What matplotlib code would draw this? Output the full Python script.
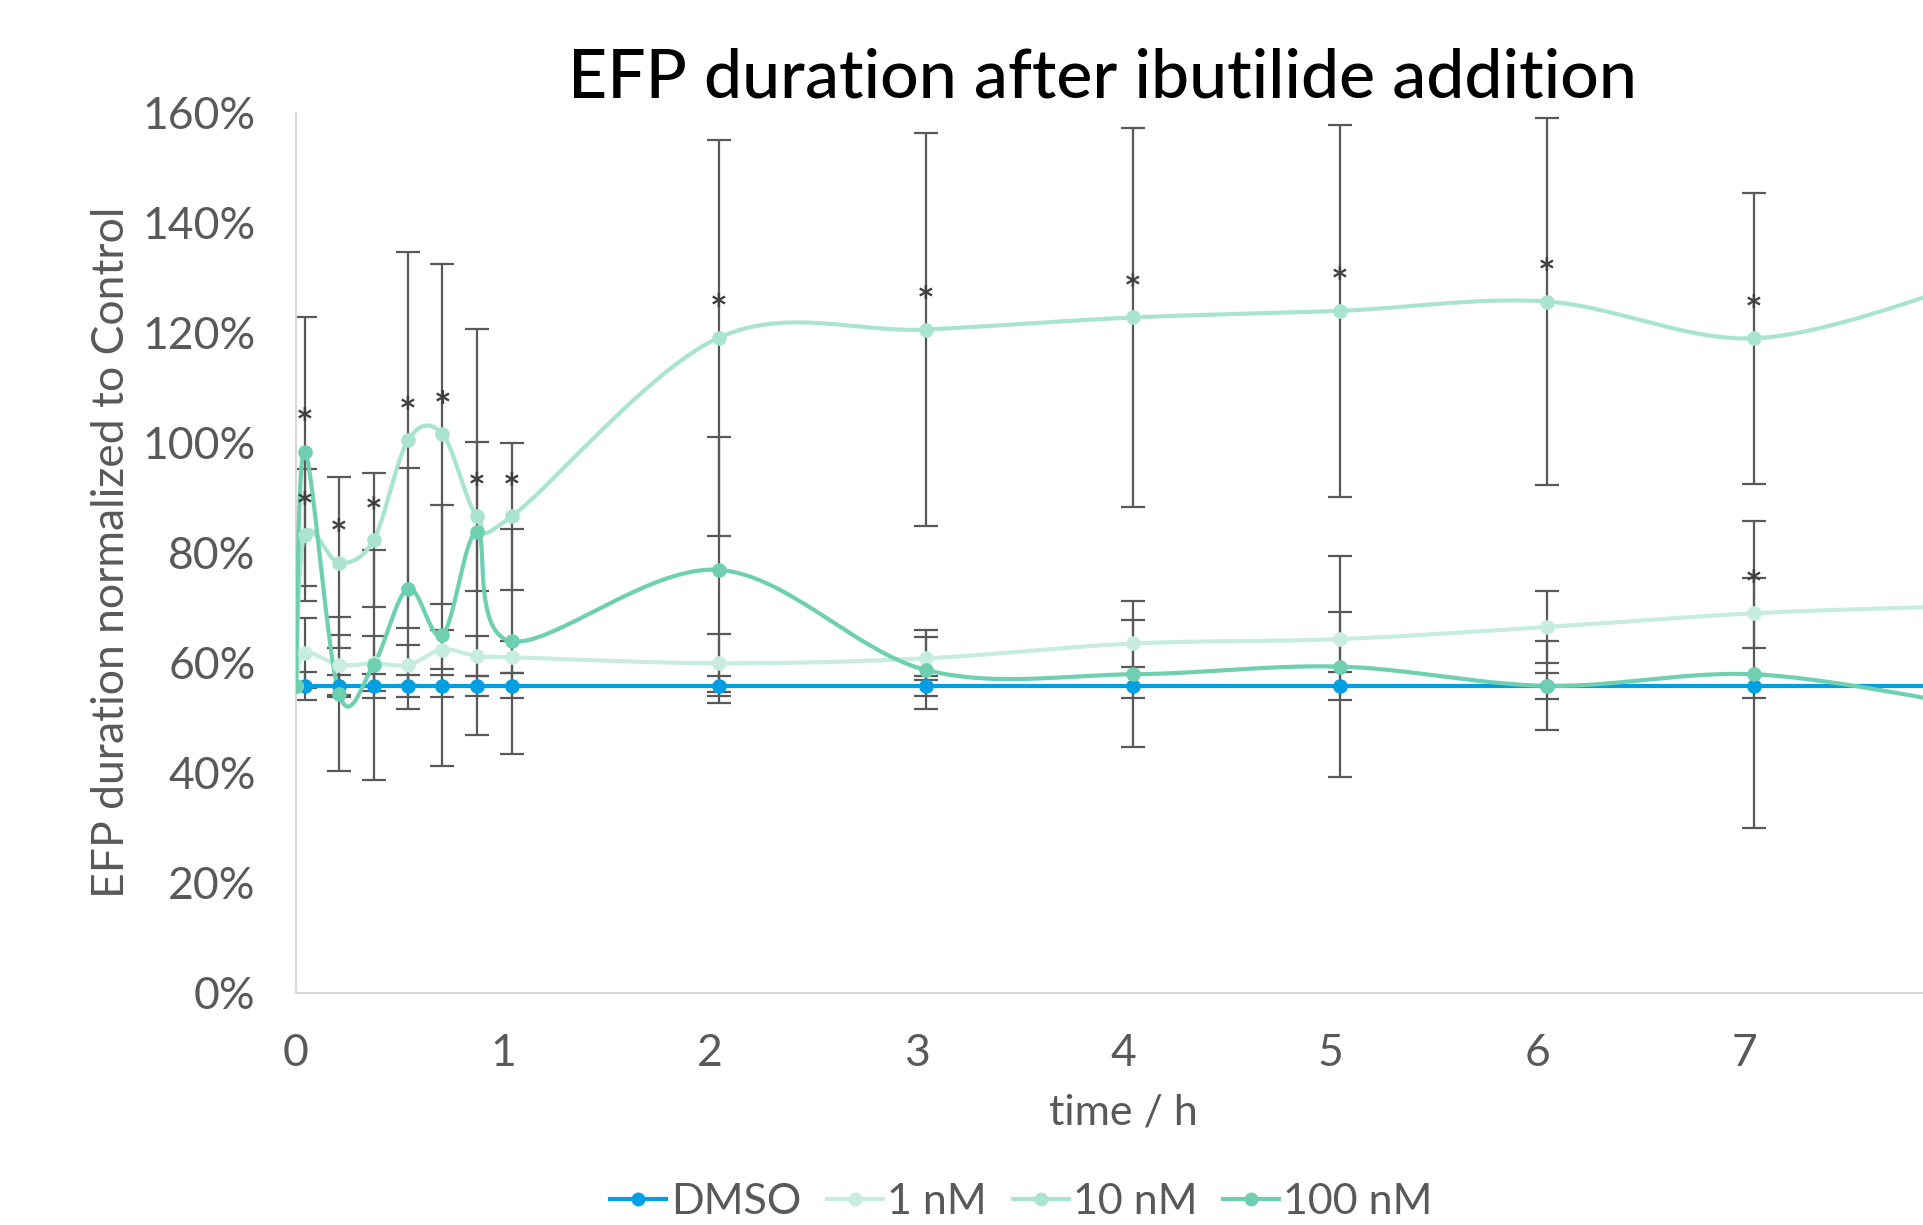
"""
    EFP duration after ibutilide addition (normalized to control)
"""

import numpy as np
import matplotlib
matplotlib.use("Agg")
import matplotlib.pyplot as plt
from matplotlib.ticker import PercentFormatter
from matplotlib.lines import Line2D

time_h = [0, 0.042, 0.208, 0.375, 0.542, 0.708, 0.875, 1.042,
          2.042, 3.042, 4.042, 5.042, 6.042, 7.042, 8.042]

dmso = [0.558] * 15
dmso_err = [0, 0.026, 0.020, 0.022, 0.020, 0.020, 0.018, 0.023,
            0.018, 0.018, 0.022, 0.026, 0.024, 0.022, 0]

nm1 = [0.558, 0.618, 0.596, 0.599, 0.596, 0.624, 0.612, 0.610,
       0.599, 0.608, 0.635, 0.643, 0.665, 0.690, 0.703]
nm1_err = [0, 0.064, 0.054, 0.050, 0.036, 0.035, 0.037, 0.029,
           0.053, 0.039, 0.043, 0.050, 0.066, 0.064, 0]

nm10 = [0.558, 0.832, 0.782, 0.823, 1.005, 1.016, 0.866, 0.866,
        1.191, 1.206, 1.228, 1.240, 1.257, 1.190, 1.285]
nm10_err = [0, 0.120, 0.156, 0.122, 0.342, 0.309, 0.136, 0.134,
            0.360, 0.357, 0.345, 0.338, 0.334, 0.264, 0]

nm100 = [0.558, 0.984, 0.544, 0.596, 0.735, 0.650, 0.838, 0.639,
         0.769, 0.587, 0.579, 0.593, 0.558, 0.579, 0.525]
nm100_err = [0, 0.245, 0.140, 0.209, 0.220, 0.237, 0.369, 0.205,
             0.242, 0.072, 0.133, 0.201, 0.081, 0.279, 0]

# indices of points that carry a "*" label
star_1nm = [13]
star_10nm = list(range(1, 14))
star_100nm = [1]

labels = ["DMSO", "1 nM", "10 nM", "100 nM"]
colors = ["#009FE3", "#C6EDDF", "#A8E4D0", "#6ECFB1"]


def smooth(x, y, n=40):
    """
        Excel-like smoothed line (Catmull-Rom as Bezier)
    """
    pts = np.column_stack([x, y]).astype(float)
    ext = np.vstack([pts[0], pts, pts[-1]])
    s = np.linspace(0, 1, n)[:, None]
    out = []
    for i in range(1, len(ext) - 2):
        p0, p1, p2, p3 = ext[i - 1], ext[i], ext[i + 1], ext[i + 2]
        c1 = p1 + (p2 - p0) / 6
        c2 = p2 - (p3 - p1) / 6
        seg = ((1 - s) ** 3) * p1 + 3 * ((1 - s) ** 2) * s * c1 \
            + 3 * (1 - s) * s ** 2 * c2 + s ** 3 * p2
        out.append(seg)
    out = np.vstack(out)
    return out[:, 0], out[:, 1]


plt.rcParams["font.family"] = ["Lato", "DejaVu Sans"]
grey = "#595959"

fig = plt.figure(figsize=(19.24, 12.25), dpi=100)
ax = fig.add_axes([0.1538, 0.1897, 0.8607, 0.7181])

series = [(dmso, dmso_err), (nm1, nm1_err), (nm10, nm10_err), (nm100, nm100_err)]
t = np.array(time_h)

for vals, err in series:
    ax.errorbar(t[1:14], vals[1:14], yerr=err[1:14], fmt="none",
                ecolor=grey, elinewidth=1.6, capsize=8.5, capthick=1.6,
                zorder=2)

for (vals, err), col in zip(series, colors):
    sx, sy = smooth(t, vals)
    ax.plot(sx, sy, color=col, lw=3.0, zorder=3, solid_capstyle="round")
    ax.plot(t, vals, "o", color=col, ms=10.5, zorder=4, markeredgewidth=0)

for idx_list, vals in [(star_1nm, nm1), (star_10nm, nm10), (star_100nm, nm100)]:
    for i in idx_list:
        ax.annotate("*", xy=(t[i], vals[i]), xytext=(0, 9),
                    textcoords="offset points", ha="center", va="baseline",
                    fontsize=30, fontweight="bold", color="#404040", zorder=5)

ax.set_xlim(0, 8)
ax.set_ylim(0, 1.6)
ax.set_xticks(range(0, 8))
ax.set_yticks(np.arange(0, 1.61, 0.2))
ax.yaxis.set_major_formatter(PercentFormatter(xmax=1, decimals=0))
ax.tick_params(length=0, labelsize=32, labelcolor=grey)
ax.tick_params(axis="x", pad=29)
ax.tick_params(axis="y", pad=29)

for side in ["top", "right"]:
    ax.spines[side].set_visible(False)
for side in ["left", "bottom"]:
    ax.spines[side].set_color("#D9D9D9")
    ax.spines[side].set_linewidth(1.5)

ax.set_xlabel("time / h", fontsize=31, color=grey)
ax.xaxis.set_label_coords(0.5, -0.115)
ax.set_ylabel("EFP duration normalized to Control", fontsize=32, color=grey)
ax.yaxis.set_label_coords(-0.099, 0.5)

fig.text(0.573, 0.92, "EFP duration after ibutilide addition", ha="center",
         va="baseline", fontsize=49, fontweight="medium", color="#000000")

handles = [Line2D([0], [0], color=c, lw=3.0, marker="o", ms=9) for c in colors]
fig.legend(handles, labels, loc="center", bbox_to_anchor=(0.531, 0.019),
           ncol=4, frameon=False, fontsize=31, labelcolor=grey,
           handlelength=1.3, handletextpad=0.1, columnspacing=0.6,
           borderpad=0)

fig.savefig("out.png", dpi=100)
